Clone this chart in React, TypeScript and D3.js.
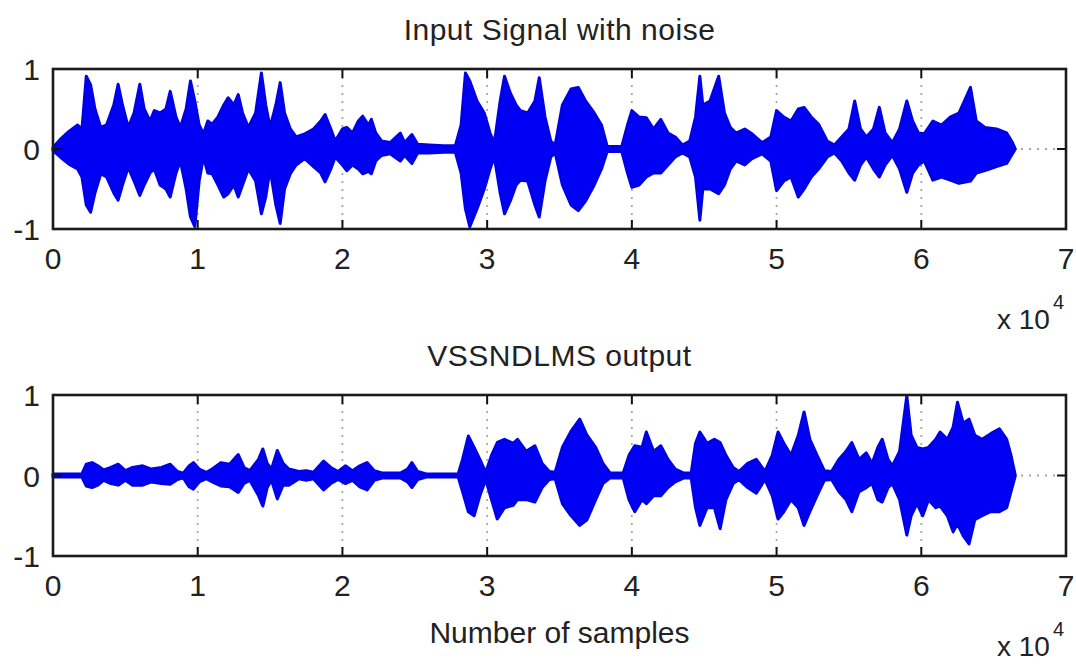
import * as d3 from 'd3';

// envelope keypoints (sample index, upper, lower)
const inputPos = [
  0, 500, 1100, 1700, 2000, 2300, 2600, 2900, 3300, 3700, 4200, 4500, 4800, 5200, 5600, 6000,
  6300, 6700, 7000, 7400, 7800, 8100, 8500, 8800, 9200, 9500, 9800, 10100, 10400, 10700, 11000,
  11400, 11800, 12100, 12500, 12800, 13100, 13500, 14000, 14400, 14700, 15000, 15400, 15700,
  16000, 16400, 16800, 17400, 18000, 18500, 18800, 19200, 19500, 20000, 20300, 20700, 21100,
  21400, 21800, 22000, 22300, 22700, 23300, 24000, 24300, 24800, 25200, 26000, 27000, 27800,
  28200, 28500, 28800, 29300, 29800, 30200, 30500, 30900, 31200, 31600, 32000, 32300, 32800,
  33300, 33600, 34000, 34400, 34700, 35200, 35800, 36300, 36800, 37400, 37900, 38300, 39300,
  39700, 40000, 40500, 41000, 41500, 42000, 42500, 43000, 43500, 44000, 44400, 44700, 44900,
  45400, 46000, 46400, 46800, 47200, 47800, 48300, 49000, 49600, 50000, 50500, 51000, 51500,
  51900, 52400, 52900, 53500, 54000, 54500, 55000, 55400, 55800, 56200, 56700, 57100, 57500,
  58000, 58500, 59000, 59400, 59800, 60200, 60800, 61400, 62000, 62600, 63400, 63800, 64400,
  65200, 65900, 66300, 66500,
];
const inputTop = [
  0.02, 0.12, 0.22, 0.3, 0.25, 0.91, 0.8, 0.5, 0.27, 0.3, 0.55, 0.81, 0.55, 0.27, 0.45, 0.81,
  0.5, 0.35, 0.48, 0.45, 0.5, 0.72, 0.4, 0.27, 0.5, 0.85, 0.6, 0.3, 0.19, 0.35, 0.31,
  0.4, 0.55, 0.64, 0.55, 0.68, 0.45, 0.27, 0.45, 0.95, 0.55, 0.27, 0.55, 0.83,
  0.45, 0.25, 0.15, 0.19, 0.25, 0.35, 0.43, 0.25, 0.1, 0.25, 0.27, 0.2, 0.35,
  0.41, 0.3, 0.37, 0.2, 0.1, 0.08, 0.2, 0.08, 0.18, 0.06, 0.05, 0.04, 0.04,
  0.3, 0.95, 0.85, 0.6, 0.45, 0.2, 0.08, 0.6, 0.91, 0.7, 0.55, 0.48, 0.45,
  0.6, 0.89, 0.4, 0.1, 0.05, 0.55, 0.75, 0.77, 0.6, 0.45, 0.3, 0.03, 0.03,
  0.3, 0.48, 0.4, 0.39, 0.25, 0.37, 0.2, 0.15, 0.05, 0.1, 0.4, 0.91, 0.55,
  0.6, 0.91, 0.45, 0.27, 0.2, 0.25, 0.19, 0.08, 0.15, 0.48, 0.4, 0.35, 0.5,
  0.52, 0.4, 0.31, 0.1, 0.05, 0.15, 0.25, 0.6, 0.25, 0.15, 0.25, 0.52, 0.2,
  0.08, 0.25, 0.6, 0.35, 0.2, 0.19, 0.35, 0.3, 0.4, 0.45, 0.77, 0.35, 0.27,
  0.25, 0.2, 0.08, 0,
];
const inputBottom = [
  -0.02, -0.1, -0.19, -0.25, -0.35, -0.7, -0.79, -0.55, -0.31, -0.35, -0.55, -0.64, -0.45, -0.23,
  -0.4, -0.58, -0.45, -0.3, -0.25, -0.45, -0.5, -0.6, -0.3, -0.15, -0.5, -0.85, -0.97, -0.4,
  -0.1, -0.3, -0.31, -0.45, -0.6, -0.56, -0.45, -0.6, -0.45, -0.25, -0.4, -0.81, -0.6, -0.25,
  -0.7, -0.93, -0.5, -0.31, -0.2, -0.12, -0.22, -0.3, -0.41, -0.25, -0.1, -0.2, -0.27, -0.2,
  -0.25, -0.31, -0.28, -0.31, -0.15, -0.08, -0.06, -0.15, -0.08, -0.18, -0.05, -0.05, -0.04,
  -0.04, -0.3, -0.75, -0.97, -0.75, -0.5, -0.25, -0.1, -0.55, -0.81, -0.65, -0.45, -0.39, -0.4,
  -0.7, -0.85, -0.4, -0.1, -0.05, -0.45, -0.7, -0.77, -0.65, -0.45, -0.25, -0.03, -0.03,
  -0.3, -0.48, -0.45, -0.35, -0.3, -0.3, -0.2, -0.1, -0.05, -0.1, -0.35, -0.89, -0.5,
  -0.5, -0.56, -0.45, -0.25, -0.15, -0.2, -0.12, -0.06, -0.15, -0.52, -0.4, -0.35, -0.6,
  -0.5, -0.35, -0.25, -0.1, -0.05, -0.15, -0.3, -0.39, -0.2, -0.1, -0.25, -0.35, -0.2,
  -0.08, -0.25, -0.54, -0.3, -0.2, -0.15, -0.39, -0.35, -0.39, -0.43, -0.4, -0.3, -0.27,
  -0.22, -0.18, -0.06, 0,
];

const outputPos = [
  0, 2000, 2300, 2700, 3100, 3500, 4000, 4500, 5000, 5500, 6200, 6800, 7500, 8100, 8600, 9000,
  9400, 9700, 10100, 10600, 11000, 11600, 12200, 12800, 13200, 13600, 14200, 14500, 14800,
  15100, 15500, 15900, 16300, 17000, 17500, 18000, 18700, 19200, 19700, 20200, 20700, 21200,
  21700, 22200, 22800, 24000, 24500, 24800, 25200, 25800, 28000, 28300, 28700, 29100, 29500,
  29900, 30300, 30700, 31200, 31800, 32100, 32700, 33300, 33800, 34300, 34700, 35200, 35800,
  36400, 36900, 37500, 38000, 38500, 39400, 39800, 40200, 40700, 41000, 41500, 42000, 42500,
  43000, 43600, 44100, 44400, 44700, 45200, 45700, 46100, 46500, 47000, 47400, 48000, 48600,
  49200, 49700, 50100, 50500, 51000, 51500, 51900, 52300, 52800, 53300, 53800, 54300, 54800,
  55200, 55700, 56200, 56600, 57000, 57300, 57700, 58000, 58500, 59000, 59300, 59700, 60100,
  60500, 61000, 61300, 61800, 62200, 62500, 62900, 63300, 63700, 64200, 64800, 65400, 65900,
  66200, 66500,
];
const outputTop = [
  0.02, 0.02, 0.14, 0.16, 0.12, 0.07, 0.1, 0.14, 0.06, 0.1, 0.12, 0.08, 0.1, 0.14, 0.05, 0.03,
  0.12, 0.16, 0.08, 0.04, 0.08, 0.16, 0.14, 0.26, 0.1, 0.06, 0.2, 0.33, 0.15,
  0.08, 0.31, 0.15, 0.08, 0.05, 0.06, 0.04, 0.18, 0.1, 0.05, 0.12, 0.06, 0.12,
  0.16, 0.06, 0.03, 0.03, 0.08, 0.16, 0.05, 0.02, 0.02, 0.2, 0.49, 0.35, 0.2,
  0.04, 0.25, 0.41, 0.45, 0.4, 0.45, 0.3, 0.37, 0.15, 0.05, 0.04, 0.35, 0.55,
  0.7, 0.5, 0.35, 0.15, 0.03, 0.03, 0.25, 0.37, 0.35, 0.54, 0.3, 0.37, 0.2,
  0.08, 0.03, 0.03, 0.4, 0.54, 0.4, 0.45, 0.41, 0.25, 0.1, 0.05, 0.15, 0.2,
  0.05, 0.25, 0.54, 0.4, 0.25, 0.5, 0.79, 0.45, 0.25, 0.06, 0.05, 0.2, 0.3,
  0.41, 0.2, 0.28, 0.15, 0.35, 0.45, 0.2, 0.12, 0.3, 0.99, 0.5, 0.35, 0.33,
  0.35, 0.45, 0.54, 0.45, 0.6, 0.91, 0.65, 0.7, 0.5, 0.45, 0.52, 0.58, 0.45,
  0.25, 0,
];
const outputBottom = [
  -0.02, -0.02, -0.13, -0.15, -0.12, -0.06, -0.1, -0.12, -0.06, -0.12, -0.12, -0.08, -0.1, -0.11,
  -0.05, -0.03, -0.14, -0.17, -0.08, -0.04, -0.08, -0.13, -0.14, -0.21, -0.1, -0.06, -0.25,
  -0.38, -0.15, -0.06, -0.29, -0.12, -0.12, -0.04, -0.06, -0.04, -0.18, -0.1, -0.05, -0.1,
  -0.06, -0.14, -0.18, -0.06, -0.03, -0.03, -0.08, -0.15, -0.05, -0.02, -0.02, -0.2, -0.45,
  -0.5, -0.25, -0.05, -0.3, -0.54, -0.4, -0.37, -0.3, -0.3, -0.33, -0.15, -0.05, -0.04, -0.35,
  -0.5, -0.62, -0.55, -0.3, -0.1, -0.03, -0.03, -0.3, -0.45, -0.3, -0.35, -0.25, -0.25, -0.15,
  -0.08, -0.03, -0.03, -0.4, -0.62, -0.4, -0.4, -0.66, -0.3, -0.1, -0.05, -0.15, -0.22,
  -0.05, -0.25, -0.54, -0.45, -0.3, -0.4, -0.62, -0.45, -0.25, -0.06, -0.05, -0.2, -0.3,
  -0.45, -0.2, -0.15, -0.1, -0.3, -0.33, -0.15, -0.1, -0.3, -0.74, -0.5, -0.35, -0.5,
  -0.3, -0.4, -0.38, -0.5, -0.7, -0.6, -0.75, -0.85, -0.55, -0.5, -0.45, -0.45, -0.4,
  -0.2, 0,
];

const xTicks = [0, 1, 2, 3, 4, 5, 6, 7];
const yTicks = [-1, 0, 1];
const titles = ['Input Signal with noise', 'VSSNDLMS output'];
const xLabel = 'Number of samples';

const W = 1076;
const H = 666;
const left = 53;
const right = 1066;
const font = '"Liberation Sans", Arial, sans-serif';
const ink = '#222';

type PanelProps = {
  pos: number[];
  top: number[];
  bottom: number[];
  title: string;
  y0: number;
  y1: number;
  showXLabel: boolean;
};

function Panel({ pos, top, bottom, title, y0, y1, showXLabel }: PanelProps) {
  const x = d3.scaleLinear().domain([0, 70000]).range([left, right]);
  const y = d3.scaleLinear().domain([-1, 1]).range([y1, y0]);

  const area = d3
    .area<number>()
    .x((d) => x(d))
    .y0((_, i) => y(bottom[i]))
    .y1((_, i) => y(top[i]));

  const tickLen = 9;
  return (
    <g>
      <text x={(left + right) / 2} y={y0 - 29} textAnchor="middle" fontSize={30} letterSpacing={0.5} fill={ink}>
        {title}
      </text>
      {/* dotted grid */}
      {xTicks.slice(1, -1).map((t) => (
        <line key={'g' + t} x1={x(t * 1e4)} x2={x(t * 1e4)} y1={y0} y2={y1} stroke="#a9a99a" strokeWidth={1.8} strokeDasharray="2 6" />
      ))}
      <line x1={left} x2={right} y1={y(0)} y2={y(0)} stroke="#a9a99a" strokeWidth={1.8} strokeDasharray="2 6" />
      <path d={area(pos) ?? ''} fill="#0000f4" stroke="#0000e6" strokeWidth={3} strokeLinejoin="round" />
      {/* ticks */}
      {xTicks.slice(1, -1).map((t) => (
        <g key={'t' + t} stroke="#111" strokeWidth={2}>
          <line x1={x(t * 1e4)} x2={x(t * 1e4)} y1={y1} y2={y1 - tickLen} />
          <line x1={x(t * 1e4)} x2={x(t * 1e4)} y1={y0} y2={y0 + tickLen} />
        </g>
      ))}
      <line x1={left} x2={left + tickLen} y1={y(0)} y2={y(0)} stroke="#111" strokeWidth={2} />
      <line x1={right} x2={right - tickLen} y1={y(0)} y2={y(0)} stroke="#111" strokeWidth={2} />
      <rect x={left} y={y0} width={right - left} height={y1 - y0} fill="none" stroke="#1a1a1a" strokeWidth={2.6} />
      {xTicks.map((t) => (
        <text key={'xl' + t} x={x(t * 1e4)} y={y1 + 40} textAnchor="middle" fontSize={30} fill={ink}>
          {t}
        </text>
      ))}
      {yTicks.map((t) => (
        <text key={'yl' + t} x={40} y={y(t) + 11} textAnchor="end" fontSize={30} fill={ink}>
          {t}
        </text>
      ))}
      <text x={997} y={y1 + 100} fontSize={28} fill={ink}>
        x 10
      </text>
      <text x={1053} y={y1 + 80} fontSize={20} fill={ink}>
        4
      </text>
      {showXLabel && (
        <text x={(left + right) / 2} y={643} textAnchor="middle" fontSize={30} fill={ink}>
          {xLabel}
        </text>
      )}
    </g>
  );
}

export default function App() {
  return (
    <svg width={W} height={H} viewBox={`0 0 ${W} ${H}`} style={{ position: 'absolute', left: 0, top: 0, background: '#fff', fontFamily: font }}>
      <rect width={W} height={H} fill="#fff" />
      <Panel pos={inputPos} top={inputTop} bottom={inputBottom} title={titles[0]} y0={69} y1={229} showXLabel={false} />
      <Panel pos={outputPos} top={outputTop} bottom={outputBottom} title={titles[1]} y0={395} y1={556} showXLabel={true} />
    </svg>
  );
}
